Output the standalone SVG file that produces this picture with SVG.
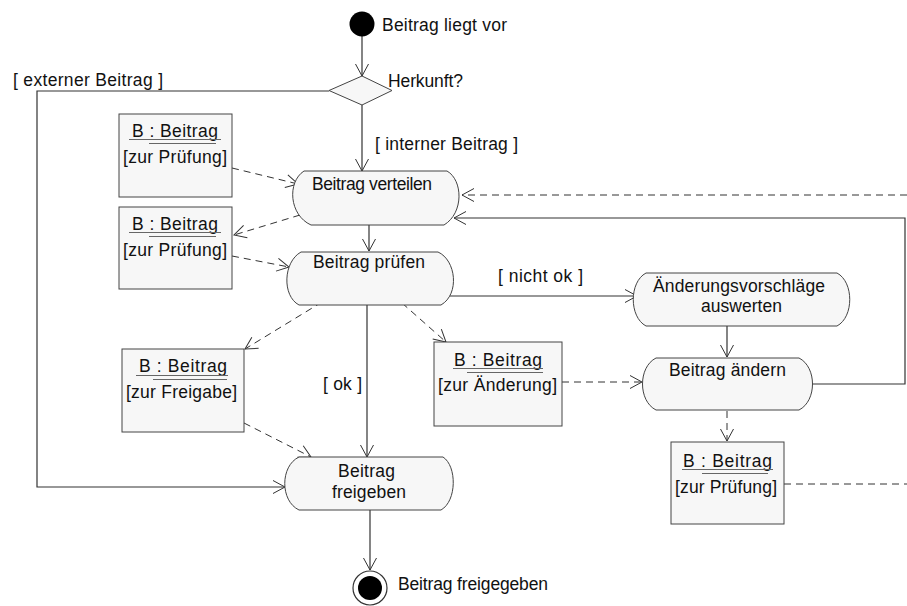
<svg xmlns="http://www.w3.org/2000/svg" width="907" height="606" viewBox="0 0 907 606">
  <defs>
    <marker id="open" markerUnits="userSpaceOnUse" markerWidth="16" markerHeight="16" refX="14" refY="8" orient="auto">
      <path d="M2,1.5 L14,8 L2,14.5" fill="none" stroke="#333" stroke-width="1"/>
    </marker>
    <style>
      text { font-family: "Liberation Sans", Arial, sans-serif; font-size: 17.5px; fill: #111; }
      .act { fill: #f7f7f7; stroke: #444; stroke-width: 1; }
      .obj { fill: #f7f7f7; stroke: #444; stroke-width: 1; }
      .ul { stroke: #666; stroke-width: 1; }
      .flow { fill: none; stroke: #333; stroke-width: 1.2; }
      .dep { fill: none; stroke: #333; stroke-width: 1; stroke-dasharray: 7 5; }
    </style>
  </defs>

  <rect width="907" height="606" fill="#ffffff"/>

  <!-- connectors -->
  <g id="connectors">
    <path class="flow" d="M362,36 V76" marker-end="url(#open)"/>
    <path class="flow" d="M362,105 V171" marker-end="url(#open)"/>
    <path class="flow" d="M329,91 H37 V487 H285" marker-end="url(#open)"/>
    <path class="flow" d="M369,225 V251" marker-end="url(#open)"/>
    <path class="flow" d="M367,305 V457" marker-end="url(#open)"/>
    <path class="flow" d="M446,296 H637" marker-end="url(#open)"/>
    <path class="flow" d="M727,326 V357" marker-end="url(#open)"/>
    <path class="flow" d="M813,384 H905 V218 H454" marker-end="url(#open)"/>
    <path class="flow" d="M370,510 V570" marker-end="url(#open)"/>

    <path class="dep" d="M232,168 L298,184" marker-end="url(#open)"/>
    <path class="dep" d="M300,215 L234,235" marker-end="url(#open)"/>
    <path class="dep" d="M232,256 L289,267" marker-end="url(#open)"/>
    <path class="dep" d="M322,302 L245,349" marker-end="url(#open)"/>
    <path class="dep" d="M244,423 L311,457" marker-end="url(#open)"/>
    <path class="dep" d="M402,303 L446,342" marker-end="url(#open)"/>
    <path class="dep" d="M562,382 L642,382" marker-end="url(#open)"/>
    <path class="dep" d="M727,411 V441" marker-end="url(#open)"/>
    <path class="dep" d="M907,195 H462" marker-end="url(#open)"/>
    <path class="dep" d="M784,484 H907"/>
  </g>

  <!-- start -->
  <g id="start">
    <circle cx="362" cy="24" r="12.5" fill="#000"/>
    <text x="382" y="31" textLength="125">Beitrag liegt vor</text>
  </g>

  <!-- decision -->
  <g id="herkunft">
    <path class="act" d="M362,76 L392,90.5 L362,105 L329,90.5 Z"/>
    <text x="388" y="87" textLength="75">Herkunft?</text>
  </g>

  <!-- guard labels -->
  <g id="guards">
    <text x="13" y="86" textLength="150">[ externer Beitrag ]</text>
    <text x="375" y="150" textLength="143">[ interner Beitrag ]</text>
    <text x="498" y="282" textLength="85">[ nicht ok ]</text>
    <text x="323" y="390" textLength="39">[ ok ]</text>
  </g>

  <!-- activities -->
  <g id="verteilen">
    <path class="act" d="M304,171 H447 C463,180 464,213 444,225 H311 C289,215 287,182 304,171 Z"/>
    <text x="312" y="190" textLength="120">Beitrag verteilen</text>
  </g>

  <g id="pruefen">
    <path class="act" d="M301,252 H438 C456,260 460,294 441,305 H299 C282,296 283,262 301,252 Z"/>
    <text x="313" y="268" textLength="112">Beitrag prüfen</text>
  </g>

  <g id="freigeben">
    <path class="act" d="M299,457 H443 C457,466 457,501 441,510 H299 C280,501 280,466 299,457 Z"/>
    <text x="338" y="477" textLength="57">Beitrag</text>
    <text x="332" y="498" textLength="74">freigeben</text>
  </g>

  <g id="auswerten">
    <path class="act" d="M646,273 H837 C854,282 854,317 837,326 H646 C629,317 629,282 646,273 Z"/>
    <text x="653" y="292" textLength="172">Änderungsvorschläge</text>
    <text x="701" y="312" textLength="81">auswerten</text>
  </g>

  <g id="aendern">
    <path class="act" d="M656,358 H799 C817,367 817,401 799,410 H656 C638,401 638,367 656,358 Z"/>
    <text x="669" y="376" textLength="117">Beitrag ändern</text>
  </g>

  <!-- object nodes -->
  <g id="obj-pruefung-1">
    <rect class="obj" x="119" y="114" width="113" height="83"/>
    <text x="132" y="137" textLength="86">B : Beitrag</text>
    <line class="ul" x1="129" y1="139.5" x2="221" y2="139.5"/>
    <line class="ul" x1="149" y1="143.5" x2="216" y2="143.5"/>
    <text x="123" y="163" textLength="104">[zur Prüfung]</text>
  </g>

  <g id="obj-pruefung-2">
    <rect class="obj" x="119" y="207" width="113" height="82"/>
    <text x="132" y="230" textLength="86">B : Beitrag</text>
    <line class="ul" x1="129" y1="232.5" x2="221" y2="232.5"/>
    <line class="ul" x1="149" y1="236.5" x2="216" y2="236.5"/>
    <text x="123" y="256" textLength="104">[zur Prüfung]</text>
  </g>

  <g id="obj-freigabe">
    <rect class="obj" x="122" y="349" width="122" height="83"/>
    <text x="139" y="372" textLength="88">B : Beitrag</text>
    <line class="ul" x1="136" y1="375.5" x2="228" y2="375.5"/>
    <line class="ul" x1="153" y1="379.5" x2="227" y2="379.5"/>
    <text x="126" y="398" textLength="111">[zur Freigabe]</text>
  </g>

  <g id="obj-aenderung">
    <rect class="obj" x="434" y="342" width="128" height="84"/>
    <text x="454" y="366" textLength="88">B : Beitrag</text>
    <line class="ul" x1="453" y1="368.5" x2="543" y2="368.5"/>
    <line class="ul" x1="467" y1="372.5" x2="543" y2="372.5"/>
    <text x="438" y="391" textLength="119">[zur Änderung]</text>
  </g>

  <g id="obj-pruefung-3">
    <rect class="obj" x="671" y="442" width="113" height="82"/>
    <text x="683" y="467" textLength="89">B : Beitrag</text>
    <line class="ul" x1="682" y1="469.5" x2="773" y2="469.5"/>
    <line class="ul" x1="702" y1="473.5" x2="768" y2="473.5"/>
    <text x="675" y="493" textLength="102">[zur Prüfung]</text>
  </g>

  <!-- final -->
  <g id="end">
    <circle cx="370" cy="588" r="17" fill="#fff" stroke="#333" stroke-width="1.2"/>
    <circle cx="370" cy="588" r="12" fill="#000"/>
    <text x="398" y="590" textLength="150">Beitrag freigegeben</text>
  </g>
</svg>
